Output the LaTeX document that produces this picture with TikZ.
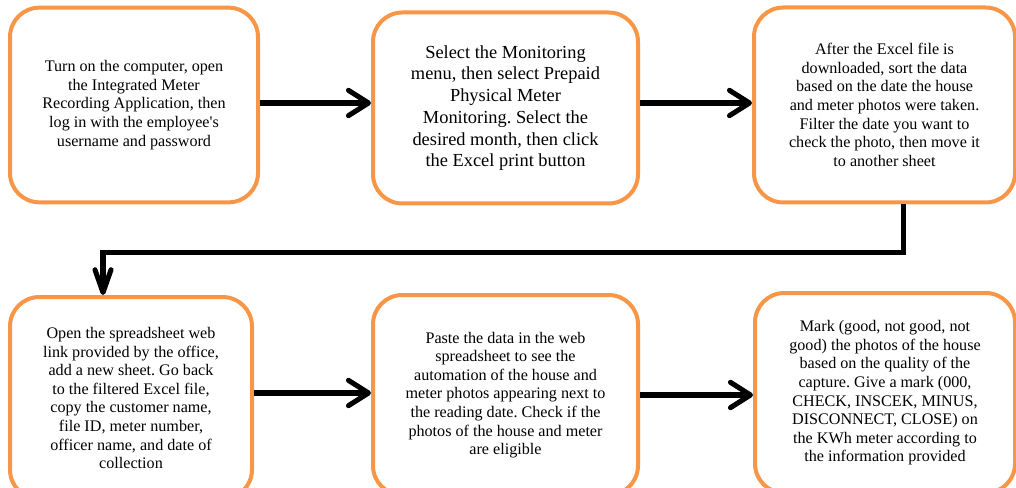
\documentclass[tikz,border=0pt]{standalone}
\usepackage{fontspec}
\setmainfont{Liberation Serif}
\usetikzlibrary{arrows.meta}
\definecolor{boxorange}{HTML}{F79646}
\frenchspacing
\tikzset{
  stepbox/.style={draw=boxorange, line width=3pt, rounded corners=22pt, fill=white,
    align=center, inner sep=0pt, font=\fontsize{12.1pt}{13.95pt}\selectfont},
  bigtext/.style={font=\fontsize{13.8pt}{16.3pt}\selectfont},
  flow/.style={line width=3.8pt, -{Straight Barb[length=15pt, width=19pt, line cap=round, round]}},
  flowdown/.style={line width=3.8pt, -{Straight Barb[length=17pt, width=12pt, line cap=round, round]}}
}
\begin{document}
\begin{tikzpicture}[x=0.75pt, y=-0.75pt]
  \useasboundingbox (0,0) rectangle (1016,488);
  \clip (0,0) rectangle (1016,488);

  % top row
  \node[stepbox, minimum width=186pt, minimum height=146pt] (b1) at (134,105)
    {Turn on the computer, open\\the Integrated Meter\\Recording Application, then\\log in with the employee\textquotesingle s\\username and password};
  \node[stepbox, bigtext, minimum width=198.75pt, minimum height=143.25pt] (b2) at (505.5,108)
    {Select the Monitoring\\menu, then select Prepaid\\Physical Meter\\Monitoring. Select the\\desired month, then click\\the Excel print button};
  \node[stepbox, minimum width=195.75pt, minimum height=146.25pt] (b3) at (884.5,105)
    {After the Excel file is\\downloaded, sort the data\\based on the date the house\\and meter photos were taken.\\Filter the date you want to\\check the photo, then move it\\to another sheet};

  % bottom row
  \node[stepbox, minimum width=181.5pt, minimum height=151.5pt] (b4) at (131,398)
    {Open the spreadsheet web\\link provided by the office,\\add a new sheet. Go back\\to the filtered Excel file,\\copy the customer name,\\file ID, meter number,\\officer name, and date of\\collection};
  \node[stepbox, minimum width=198.75pt, minimum height=150pt] (b5) at (505.5,395)
    {Paste the data in the web\\spreadsheet to see the\\automation of the house and\\meter photos appearing next to\\the reading date. Check if the\\photos of the house and meter\\are eligible};
  \node[stepbox, minimum width=195pt, minimum height=150pt] (b6) at (885,393)
    {Mark (good, not good, not\\good) the photos of the house\\based on the quality of the\\capture. Give a mark (000,\\CHECK, INSCEK, MINUS,\\DISCONNECT, CLOSE) on\\the KWh meter according to\\the information provided};

  % connectors
  \draw[flow] ([yshift=1.5pt]b1.east) -- ([yshift=1.5pt]b1.east -| b2.west);
  \draw[flow] ([yshift=3.75pt]b2.east) -- ([yshift=3.75pt]b2.east -| b3.west);
  \draw[flowdown] ([xshift=13.9pt]b3.south) -- ++(0,48) -| ([xshift=-21pt]b4.north);
  \draw[flow] ([yshift=3.75pt]b4.east) -- ([yshift=3.75pt]b4.east -| b5.west);
  \draw[flow] (b5.east) -- (b5.east -| b6.west);
\end{tikzpicture}
\end{document}
